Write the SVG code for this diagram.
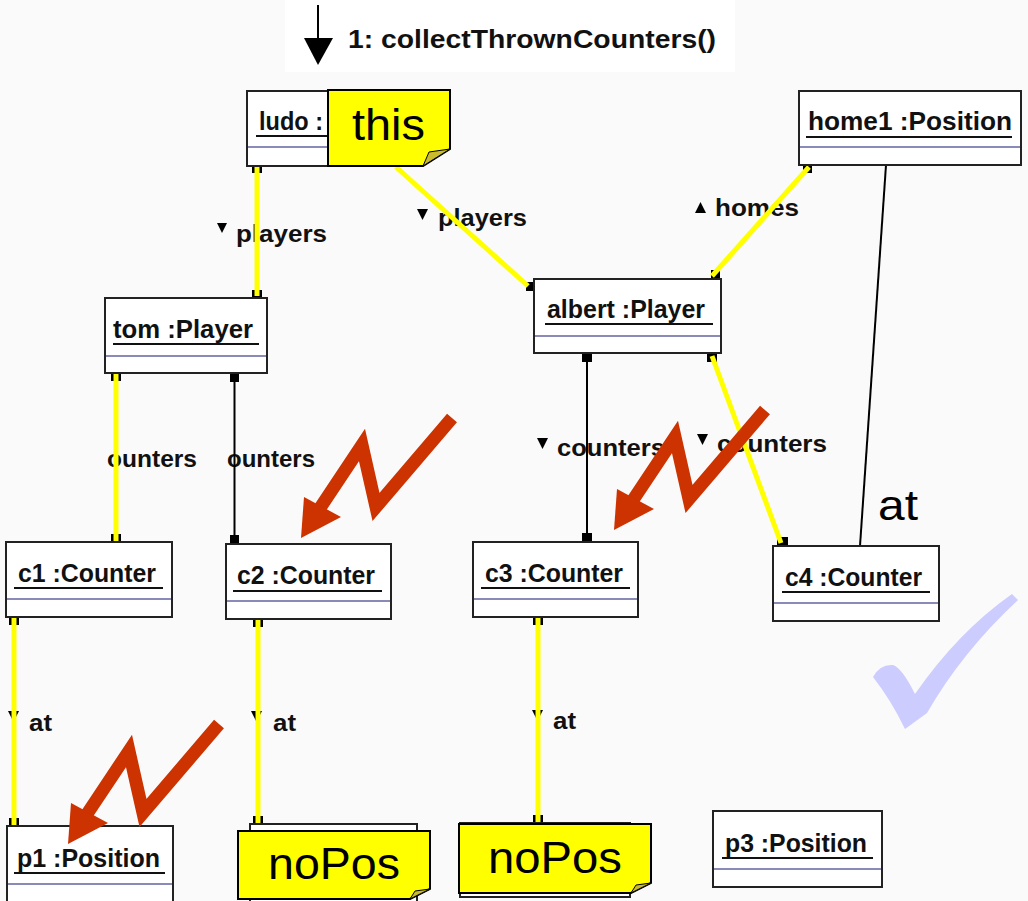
<svg xmlns="http://www.w3.org/2000/svg" xmlns:xlink="http://www.w3.org/1999/xlink" width="1028" height="901" viewBox="0 0 1028 901">
  <style>
    .box { fill: #ffffff; stroke: #222222; stroke-width: 2; }
    .name { font-family: "Liberation Sans", Arial, sans-serif; font-weight: bold; font-size: 25px; fill: #111111; }
    .ul { stroke: #111111; stroke-width: 2; }
    .cmp { stroke: #8a8ab8; stroke-width: 2; }
    .ylw { stroke: #ffff00; stroke-width: 5; fill: none; }
    .blk { stroke: #000000; stroke-width: 2; fill: none; }
    .mk { fill: #000000; }
    .role { font-family: "Liberation Sans", Arial, sans-serif; font-weight: bold; font-size: 24px; fill: #111111; }
    .tri { fill: #000000; }
    .note { fill: #ffff00; stroke: #000000; stroke-width: 2; }
    .fold { fill: #c8bb30; stroke: #000000; stroke-width: 1; }
    .notetxt { font-family: "Liberation Sans", Arial, sans-serif; font-size: 44px; fill: #000000; }
    .big { font-family: "Liberation Sans", Arial, sans-serif; font-size: 42px; fill: #000000; }
  </style>
  <defs>
    <!-- red zig-zag arrow, drawn at its first position -->
    <g id="bolt">
      <polyline points="452,418 376,507 362,445 320,508" fill="none" stroke="#cc3300" stroke-width="13" stroke-linejoin="miter" stroke-miterlimit="10"/>
      <polygon points="301,538 304,497 341,517" fill="#cc3300"/>
    </g>
  </defs>

  <rect x="0" y="0" width="1028" height="901" fill="#fafafa"/>
  <rect x="285" y="0" width="450" height="72" fill="#ffffff"/>

  <!-- incoming message -->
  <g id="message">
    <line x1="318" y1="5" x2="318" y2="40" stroke="#000" stroke-width="2"/>
    <polygon points="304,38 333,38 318,65" fill="#000"/>
    <text x="348" y="48" class="name" textLength="368" lengthAdjust="spacingAndGlyphs">1: collectThrownCounters()</text>
  </g>

  <!-- role labels -->
  <g id="labels">
    <polygon class="tri" points="217,223 227,223 222,233"/>
    <text x="236" y="242" class="role" textLength="91" lengthAdjust="spacingAndGlyphs">players</text>
    <polygon class="tri" points="417,209 428,209 422.5,220"/>
    <text x="438" y="226" class="role" textLength="89" lengthAdjust="spacingAndGlyphs">players</text>
    <polygon class="tri" points="695,213 706,213 700.5,202"/>
    <text x="715" y="216" class="role" textLength="84" lengthAdjust="spacingAndGlyphs">homes</text>
    <text x="107" y="467" class="role" textLength="90" lengthAdjust="spacingAndGlyphs">ounters</text>
    <text x="227" y="467" class="role" textLength="88" lengthAdjust="spacingAndGlyphs">ounters</text>
    <polygon class="tri" points="537,438 548,438 542.5,449"/>
    <text x="557" y="456" class="role" textLength="108" lengthAdjust="spacingAndGlyphs">counters</text>
    <polygon class="tri" points="697,434 708,434 702.5,445"/>
    <text x="717" y="452" class="role" textLength="110" lengthAdjust="spacingAndGlyphs">counters</text>
    <polygon class="tri" points="8,711 19,711 13.5,722"/>
    <text x="29" y="731" class="role" textLength="23" lengthAdjust="spacingAndGlyphs">at</text>
    <polygon class="tri" points="251,711 262,711 256.5,722"/>
    <text x="273" y="731" class="role" textLength="23" lengthAdjust="spacingAndGlyphs">at</text>
    <polygon class="tri" points="532,710 543,710 537.5,721"/>
    <text x="553" y="729" class="role" textLength="23" lengthAdjust="spacingAndGlyphs">at</text>
    <text x="878" y="520" class="big" textLength="40" lengthAdjust="spacingAndGlyphs">at</text>
  </g>

  <!-- links between objects -->
  <g id="connectors">
    <!-- ludo - tom -->
    <rect class="mk" x="252" y="165" width="10" height="8"/>
    <rect class="mk" x="252" y="290" width="10" height="8"/>
    <line class="ylw" x1="257" y1="165" x2="257" y2="296"/>
    <!-- ludo - albert -->
    <rect class="mk" x="526" y="282" width="9" height="9"/>
    <line class="ylw" x1="396" y1="167" x2="528" y2="286"/>
    <!-- home1 - albert -->
    <rect class="mk" x="803" y="165" width="9" height="8"/>
    <rect class="mk" x="711" y="270" width="9" height="9"/>
    <line class="ylw" x1="809" y1="167" x2="712" y2="276"/>
    <!-- home1 - c4 -->
    <line class="blk" x1="886" y1="165" x2="860" y2="546"/>
    <!-- tom - c1 -->
    <rect class="mk" x="111" y="373" width="10" height="8"/>
    <rect class="mk" x="111" y="534" width="10" height="8"/>
    <line class="ylw" x1="116" y1="373" x2="116" y2="541"/>
    <!-- tom - c2 -->
    <rect class="mk" x="230" y="373" width="9" height="9"/>
    <rect class="mk" x="230" y="535" width="9" height="9"/>
    <line class="blk" x1="234.5" y1="373" x2="234.5" y2="544"/>
    <!-- albert - c3 -->
    <rect class="mk" x="582" y="353" width="10" height="9"/>
    <rect class="mk" x="582" y="533" width="10" height="9"/>
    <line class="blk" x1="587" y1="353" x2="587" y2="542"/>
    <!-- albert - c4 -->
    <rect class="mk" x="707" y="353" width="10" height="9"/>
    <rect class="mk" x="777" y="537" width="11" height="9"/>
    <line class="ylw" x1="712" y1="356" x2="781" y2="543"/>
    <!-- c1 - p1 -->
    <rect class="mk" x="9" y="617" width="10" height="8"/>
    <rect class="mk" x="9" y="818" width="10" height="8"/>
    <line class="ylw" x1="14" y1="617" x2="14" y2="826"/>
    <!-- c2 - noPos -->
    <rect class="mk" x="253" y="619" width="10" height="8"/>
    <rect class="mk" x="253" y="816" width="10" height="8"/>
    <line class="ylw" x1="258" y1="619" x2="258" y2="824"/>
    <!-- c3 - noPos -->
    <rect class="mk" x="533" y="617" width="10" height="8"/>
    <rect class="mk" x="533" y="815" width="10" height="8"/>
    <line class="ylw" x1="538" y1="617" x2="538" y2="823"/>
  </g>

  <!-- objects -->
  <g id="ludo">
    <rect class="box" x="247" y="91" width="175" height="75"/>
    <text x="259" y="130" class="name" textLength="64" lengthAdjust="spacingAndGlyphs">ludo :</text>
    <line class="ul" x1="256" y1="136" x2="410" y2="136"/>
    <line class="cmp" x1="248" y1="147" x2="421" y2="147"/>
  </g>
  <g id="home1">
    <rect class="box" x="799" y="91" width="222" height="74"/>
    <text x="808" y="130" class="name" textLength="204" lengthAdjust="spacingAndGlyphs">home1 :Position</text>
    <line class="ul" x1="806" y1="137" x2="1012" y2="137"/>
    <line class="cmp" x1="800" y1="147" x2="1020" y2="147"/>
  </g>
  <g id="tom">
    <rect class="box" x="105" y="298" width="162" height="75"/>
    <text x="113" y="338" class="name" textLength="140" lengthAdjust="spacingAndGlyphs">tom :Player</text>
    <line class="ul" x1="113" y1="344" x2="259" y2="344"/>
    <line class="cmp" x1="106" y1="356" x2="266" y2="356"/>
  </g>
  <g id="albert">
    <rect class="box" x="534" y="279" width="187" height="74"/>
    <text x="547" y="318" class="name" textLength="158" lengthAdjust="spacingAndGlyphs">albert :Player</text>
    <line class="ul" x1="545" y1="324" x2="713" y2="324"/>
    <line class="cmp" x1="535" y1="336" x2="720" y2="336"/>
  </g>
  <g id="c1">
    <rect class="box" x="6" y="542" width="166" height="75"/>
    <text x="18" y="582" class="name" textLength="138" lengthAdjust="spacingAndGlyphs">c1 :Counter</text>
    <line class="ul" x1="14" y1="588" x2="163" y2="588"/>
    <line class="cmp" x1="7" y1="599" x2="171" y2="599"/>
  </g>
  <g id="c2">
    <rect class="box" x="226" y="544" width="165" height="75"/>
    <text x="237" y="584" class="name" textLength="138" lengthAdjust="spacingAndGlyphs">c2 :Counter</text>
    <line class="ul" x1="233" y1="591" x2="382" y2="591"/>
    <line class="cmp" x1="227" y1="601" x2="390" y2="601"/>
  </g>
  <g id="c3">
    <rect class="box" x="473" y="542" width="165" height="75"/>
    <text x="485" y="582" class="name" textLength="138" lengthAdjust="spacingAndGlyphs">c3 :Counter</text>
    <line class="ul" x1="481" y1="588" x2="630" y2="588"/>
    <line class="cmp" x1="474" y1="599" x2="637" y2="599"/>
  </g>
  <g id="c4">
    <rect class="box" x="773" y="546" width="166" height="75"/>
    <text x="785" y="586" class="name" textLength="137" lengthAdjust="spacingAndGlyphs">c4 :Counter</text>
    <line class="ul" x1="782" y1="592" x2="930" y2="592"/>
    <line class="cmp" x1="774" y1="603" x2="938" y2="603"/>
  </g>
  <g id="p1">
    <rect class="box" x="7" y="826" width="166" height="80"/>
    <text x="17" y="867" class="name" textLength="143" lengthAdjust="spacingAndGlyphs">p1 :Position</text>
    <line class="ul" x1="14" y1="873" x2="165" y2="873"/>
    <line class="cmp" x1="8" y1="884" x2="172" y2="884"/>
  </g>
  <g id="p3">
    <rect class="box" x="713" y="811" width="169" height="76"/>
    <text x="725" y="852" class="name" textLength="142" lengthAdjust="spacingAndGlyphs">p3 :Position</text>
    <line class="ul" x1="722" y1="858" x2="873" y2="858"/>
    <line class="cmp" x1="714" y1="869" x2="881" y2="869"/>
  </g>
  <g id="p2box">
    <rect class="box" x="250" y="824" width="167" height="82"/>
  </g>
  <g id="p4box">
    <rect class="box" x="460" y="823" width="170" height="74"/>
  </g>

  <!-- sticky notes -->
  <g id="note-this">
    <path class="note" d="M328,90 H450 V149 L423,166 H328 Z"/>
    <path class="fold" d="M423,166 L429,152 L450,149 Z"/>
    <text x="352" y="140" class="notetxt" textLength="73" lengthAdjust="spacingAndGlyphs">this</text>
  </g>
  <g id="note-nopos1">
    <path class="note" d="M238,831 H430 V889 L410,899 H238 Z"/>
    <path class="fold" d="M410,899 L415,891 L430,889 Z"/>
    <text x="268" y="879" class="notetxt" textLength="132" lengthAdjust="spacingAndGlyphs">noPos</text>
  </g>
  <g id="note-nopos2">
    <path class="note" d="M459,824 H651 V883 L631,893 H459 Z"/>
    <path class="fold" d="M631,893 L636,885 L651,883 Z"/>
    <text x="488" y="873" class="notetxt" textLength="134" lengthAdjust="spacingAndGlyphs">noPos</text>
  </g>

  <!-- red zig-zag arrows -->
  <g id="bolts">
    <use xlink:href="#bolt"/>
    <use xlink:href="#bolt" transform="translate(313,-8)"/>
    <use xlink:href="#bolt" transform="translate(-233,306)"/>
  </g>

  <!-- check mark -->
  <path id="check" d="M873,677 Q880,664 893,665 Q902,668 915,694 Q958,632 1012,594 L1018,600 Q962,652 927,713 L905,729 Q891,700 873,677 Z" fill="#ccccff"/>
</svg>
